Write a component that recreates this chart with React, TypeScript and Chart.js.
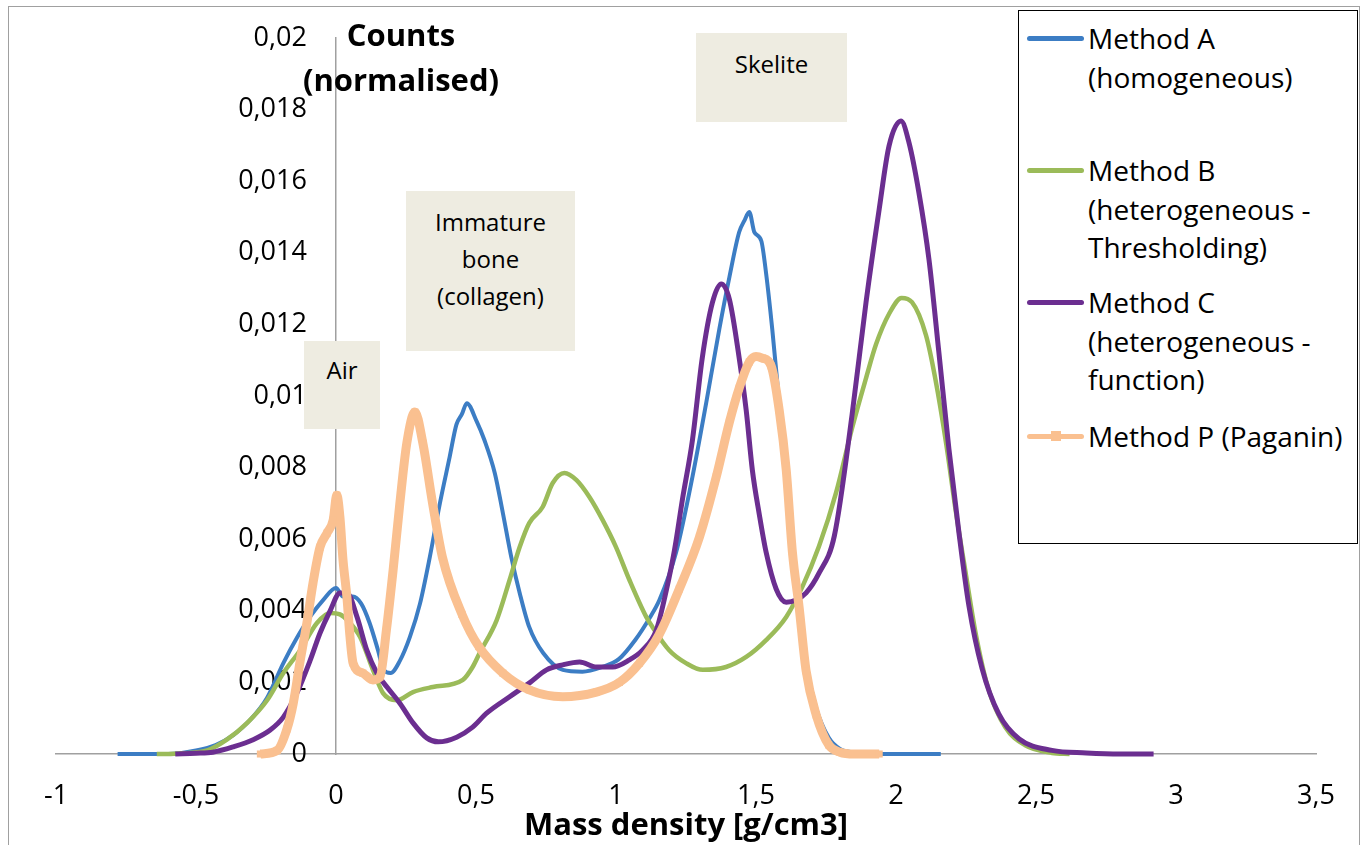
import React, { useEffect, useRef } from "react";
import { Chart, registerables } from "chart.js";
Chart.register(...registerables);

const FONT = "'Open Sans', Lato, sans-serif";

// ---- axis ticks ----
const xTickValues = [-1, -0.5, 0, 0.5, 1, 1.5, 2, 2.5, 3, 3.5];
const xTickLabels = ["-1", "-0,5", "0", "0,5", "1", "1,5", "2", "2,5", "3", "3,5"];
const yTickValues = [0, 0.002, 0.004, 0.006, 0.008, 0.01, 0.012, 0.014, 0.016, 0.018, 0.02];
const yTickLabels = ["0", "0,002", "0,004", "0,006", "0,008", "0,01", "0,012", "0,014", "0,016", "0,018", "0,02"];

// ---- series ----
const seriesLabels = [
  "Method A (homogeneous)",
  "Method B (heterogeneous - Thresholding)",
  "Method C (heterogeneous - function)",
  "Method P (Paganin)",
];
const seriesColors = ["#3C7DC4", "#9BBB59", "#6B2E90", "#FAC090"];

const methodA_x = [-0.78, -0.7, -0.6, -0.5, -0.43, -0.367, -0.307, -0.247, -0.188, -0.14, -0.093, -0.046, 0, 0.025, 0.06, 0.09, 0.12, 0.15, 0.17, 0.195, 0.228, 0.264, 0.3, 0.335, 0.371, 0.406, 0.43, 0.45, 0.467, 0.502, 0.53, 0.567, 0.596, 0.626, 0.656, 0.69, 0.74, 0.81, 0.88, 0.95, 1.01, 1.07, 1.12, 1.155, 1.215, 1.273, 1.322, 1.369, 1.405, 1.44, 1.458, 1.476, 1.494, 1.519, 1.536, 1.558, 1.583, 1.608, 1.63, 1.654, 1.679, 1.715, 1.76, 1.8, 1.85, 1.9, 2.0, 2.1, 2.16];
const methodA_y = [0, 0, 0, 0.0001, 0.00025, 0.00053, 0.00095, 0.00156, 0.00254, 0.00324, 0.00383, 0.0043, 0.00464, 0.0044, 0.0044, 0.0042, 0.00366, 0.0029, 0.00235, 0.00226, 0.0026, 0.00327, 0.0042, 0.0055, 0.007, 0.0083, 0.0092, 0.0095, 0.0098, 0.0093, 0.00877, 0.00785, 0.00673, 0.0055, 0.0045, 0.00355, 0.00282, 0.00235, 0.0023, 0.00243, 0.00265, 0.0032, 0.0038, 0.0043, 0.00564, 0.00774, 0.0098, 0.01187, 0.01332, 0.01458, 0.01489, 0.01514, 0.01458, 0.01433, 0.01343, 0.01187, 0.0098, 0.00774, 0.00564, 0.0041, 0.00254, 0.00128, 0.00045, 0.00014, 0.00004, 0, 0, 0, 0];

const methodB_x = [-0.64, -0.6, -0.55, -0.46, -0.39, -0.317, -0.246, -0.188, -0.128, -0.068, -0.021, 0.014, 0.045, 0.086, 0.132, 0.168, 0.217, 0.275, 0.346, 0.453, 0.488, 0.513, 0.574, 0.62, 0.656, 0.69, 0.738, 0.774, 0.816, 0.859, 0.905, 0.952, 1.0, 1.048, 1.108, 1.13, 1.19, 1.25, 1.31, 1.393, 1.465, 1.536, 1.608, 1.665, 1.725, 1.786, 1.843, 1.893, 1.929, 1.975, 2.02, 2.057, 2.107, 2.14, 2.18, 2.214, 2.25, 2.285, 2.33, 2.39, 2.46, 2.557, 2.62];
const methodB_y = [0, 0, 0.00002, 0.0001, 0.0004, 0.00087, 0.0015, 0.00226, 0.0029, 0.00366, 0.00394, 0.0039, 0.0037, 0.00327, 0.00235, 0.0017, 0.0015, 0.00173, 0.00187, 0.00207, 0.00243, 0.00282, 0.00374, 0.00486, 0.00578, 0.00645, 0.0069, 0.00757, 0.00785, 0.00765, 0.00718, 0.00654, 0.00578, 0.00486, 0.00383, 0.00355, 0.0029, 0.00254, 0.00235, 0.00243, 0.00271, 0.00318, 0.00383, 0.00466, 0.0058, 0.0073, 0.0091, 0.0105, 0.01145, 0.01229, 0.01274, 0.01262, 0.0117, 0.0105, 0.00863, 0.00676, 0.005, 0.00335, 0.00182, 0.00075, 0.00025, 0.00003, 0];

const methodC_x = [-0.574, -0.5, -0.44, -0.367, -0.296, -0.235, -0.188, -0.14, -0.093, -0.057, -0.021, 0.014, 0.039, 0.075, 0.11, 0.146, 0.182, 0.228, 0.275, 0.324, 0.365, 0.431, 0.488, 0.538, 0.62, 0.69, 0.752, 0.81, 0.87, 0.93, 0.988, 1.048, 1.095, 1.144, 1.18, 1.209, 1.237, 1.273, 1.308, 1.344, 1.376, 1.405, 1.44, 1.465, 1.487, 1.512, 1.536, 1.572, 1.608, 1.643, 1.679, 1.725, 1.78, 1.843, 1.893, 1.94, 1.975, 2.018, 2.046, 2.082, 2.118, 2.153, 2.189, 2.225, 2.26, 2.307, 2.367, 2.44, 2.557, 2.68, 2.8, 2.92];
const methodC_y = [0, 0.00002, 0.00005, 0.0002, 0.0004, 0.00067, 0.00103, 0.0017, 0.0026, 0.00338, 0.004, 0.0045, 0.0045, 0.00383, 0.0029, 0.00226, 0.00187, 0.00142, 0.00087, 0.00045, 0.00034, 0.00047, 0.00075, 0.00114, 0.0016, 0.00198, 0.00235, 0.00249, 0.00257, 0.00243, 0.00243, 0.00263, 0.0029, 0.00346, 0.00458, 0.0057, 0.0071, 0.00877, 0.01106, 0.0126, 0.01313, 0.0127, 0.01106, 0.0096, 0.00793, 0.00668, 0.00564, 0.00461, 0.00424, 0.0043, 0.0045, 0.00505, 0.0061, 0.00947, 0.01262, 0.01522, 0.01698, 0.01768, 0.01709, 0.01567, 0.0138, 0.01123, 0.00852, 0.00617, 0.00416, 0.0024, 0.00112, 0.00042, 0.0001, 0.00003, 0, 0];

const methodP_x = [-0.27, -0.21, -0.175, -0.153, -0.128, -0.104, -0.082, -0.057, -0.032, -0.01, 0.003, 0.014, 0.025, 0.039, 0.05, 0.061, 0.096, 0.132, 0.157, 0.18, 0.204, 0.228, 0.253, 0.282, 0.31, 0.345, 0.38, 0.45, 0.51, 0.596, 0.69, 0.81, 0.93, 1.012, 1.084, 1.155, 1.226, 1.298, 1.358, 1.405, 1.44, 1.476, 1.5, 1.522, 1.554, 1.583, 1.608, 1.63, 1.654, 1.679, 1.715, 1.76, 1.8, 1.85, 1.94];
const methodP_y = [0, 0.0001, 0.0007, 0.0014, 0.0026, 0.00366, 0.00478, 0.00578, 0.00617, 0.00654, 0.00723, 0.00662, 0.00542, 0.00438, 0.00327, 0.00254, 0.00226, 0.00207, 0.00215, 0.00346, 0.00514, 0.007, 0.00869, 0.00955, 0.00869, 0.007, 0.0055, 0.0039, 0.003, 0.00226, 0.00179, 0.0016, 0.00173, 0.002, 0.00254, 0.00335, 0.00461, 0.00606, 0.00774, 0.00927, 0.01022, 0.01095, 0.0111, 0.01106, 0.01084, 0.0096, 0.00793, 0.00564, 0.0041, 0.00232, 0.00109, 0.00025, 0.00005, 0, 0];

// ---- text boxes / legend text ----
const legendLines = [
  ["Method A", "(homogeneous)"],
  ["Method B", "(heterogeneous -", "Thresholding)"],
  ["Method C", "(heterogeneous -", "function)"],
  ["Method P (Paganin)"],
];
const legendTops = [19, 151, 283, 417];
const yTitleLines = ["Counts", "(normalised)"];
const xTitle = "Mass density [g/cm3]";
const notes = [
  { lines: ["Air"], left: 304, top: 341, width: 76, height: 88, pad: 10 },
  { lines: ["Immature", "bone", "(collagen)"], left: 406, top: 191, width: 169, height: 160, pad: 12 },
  { lines: ["Skelite"], left: 696, top: 33, width: 151, height: 89, pad: 12 },
];

function pts(xs: number[], ys: number[]) {
  return xs.map((x, i) => ({ x, y: ys[i] }));
}

export default function App() {
  const ref = useRef<HTMLCanvasElement>(null);
  useEffect(() => {
    const canvas = ref.current!;
    const common = {
      showLine: true,
      fill: false,
      cubicInterpolationMode: "monotone" as const,
      clip: false as const,
    };
    const chart = new Chart(canvas, {
      type: "scatter",
      data: {
        datasets: [
          { ...common, label: seriesLabels[0], data: pts(methodA_x, methodA_y), borderColor: seriesColors[0], backgroundColor: seriesColors[0], borderWidth: 4, pointRadius: 0, order: 4 },
          { ...common, label: seriesLabels[1], data: pts(methodB_x, methodB_y), borderColor: seriesColors[1], backgroundColor: seriesColors[1], borderWidth: 4.5, pointRadius: 0, order: 3 },
          { ...common, label: seriesLabels[2], data: pts(methodC_x, methodC_y), borderColor: seriesColors[2], backgroundColor: seriesColors[2], borderWidth: 5, pointRadius: 0, order: 2 },
          { ...common, label: seriesLabels[3], data: pts(methodP_x, methodP_y), borderColor: seriesColors[3], backgroundColor: seriesColors[3], borderWidth: 9, pointStyle: "rect", pointRadius: 5, pointBorderWidth: 0, order: 1 },
        ],
      },
      options: {
        responsive: false,
        animation: false,
        devicePixelRatio: 1,
        layout: { padding: { left: 56, right: 46, top: 38, bottom: 0 } },
        plugins: { legend: { display: false }, tooltip: { enabled: false } },
        scales: {
          x: {
            type: "linear",
            position: "bottom",
            min: -1,
            max: 3.5,
            afterBuildTicks: (s: any) => { s.ticks = xTickValues.map((v) => ({ value: v })); },
            afterFit: (s: any) => { s.height = 91; },
            ticks: {
              callback: (_v: any, i: number) => xTickLabels[i],
              font: { family: FONT, size: 27 },
              color: "#000",
              padding: 26,
              maxRotation: 0,
              autoSkip: false,
            },
            grid: { display: false, drawTicks: false },
            border: { display: true, color: "#A0A0A0", width: 1.5 },
            title: {
              display: true,
              text: xTitle,
              font: { family: FONT, size: 31, weight: "bold" },
              color: "#000",
              padding: 0,
            },
          },
          y: {
            type: "linear",
            position: { x: 0 },
            min: 0,
            max: 0.02,
            ticks: { display: false },
            grid: { display: false, drawTicks: false },
            border: { display: true, color: "#A0A0A0", width: 1.5 },
          },
          yLabels: {
            type: "linear",
            axis: "y",
            position: { x: -0.104 },
            min: 0,
            max: 0.02,
            afterBuildTicks: (s: any) => { s.ticks = yTickValues.map((v) => ({ value: v })); },
            ticks: {
              callback: (_v: any, i: number) => yTickLabels[i],
              font: { family: FONT, size: 27 },
              color: "#000",
              padding: 0,
              autoSkip: false,
            },
            grid: { display: false, drawTicks: false },
            border: { display: false },
          },
        },
      },
    } as any);
    return () => chart.destroy();
  }, []);

  return (
    <div style={{ position: "fixed", left: 0, top: 0, width: 1362, height: 845, overflow: "hidden", background: "#fff", fontFamily: FONT, color: "#000" }}>
      <div style={{ position: "absolute", left: 8, top: 6, width: 1350, height: 900, border: "1px solid #A0A0A0" }} />
      <canvas ref={ref} width={1362} height={845} style={{ position: "absolute", left: 0, top: 0, width: 1362, height: 845 }} />
      {notes.map((n, i) => (
        <div key={i} style={{ position: "absolute", left: n.left, top: n.top, width: n.width, height: n.height, background: "#EEECE1", textAlign: "center", fontSize: 24, lineHeight: "37px", paddingTop: n.pad, boxSizing: "border-box" }}>
          {n.lines.map((l, j) => (<div key={j}>{l}</div>))}
        </div>
      ))}
      <div style={{ position: "absolute", left: 291, top: 12, width: 220, textAlign: "center", fontSize: 31, fontWeight: "bold", lineHeight: "45px" }}>
        {yTitleLines.map((l, j) => (<div key={j}>{l}</div>))}
      </div>
      <div style={{ position: "absolute", left: 1018, top: 10, width: 340, height: 534, border: "1.5px solid #000", boxSizing: "border-box", background: "#fff" }} />
      {legendLines.map((lines, i) => (
        <div key={i}>
          <div style={{ position: "absolute", left: 1027, top: legendTops[i] + 17, width: 57, height: 5, borderRadius: 3, background: seriesColors[i] }} />
          {i === 3 ? (
            <div style={{ position: "absolute", left: 1051, top: legendTops[i] + 14, width: 10, height: 10, background: seriesColors[i] }} />
          ) : null}
          <div style={{ position: "absolute", left: 1088, top: legendTops[i], fontSize: 28, lineHeight: "38.5px", whiteSpace: "nowrap" }}>
            {lines.map((l, j) => (<div key={j}>{l}</div>))}
          </div>
        </div>
      ))}
    </div>
  );
}
